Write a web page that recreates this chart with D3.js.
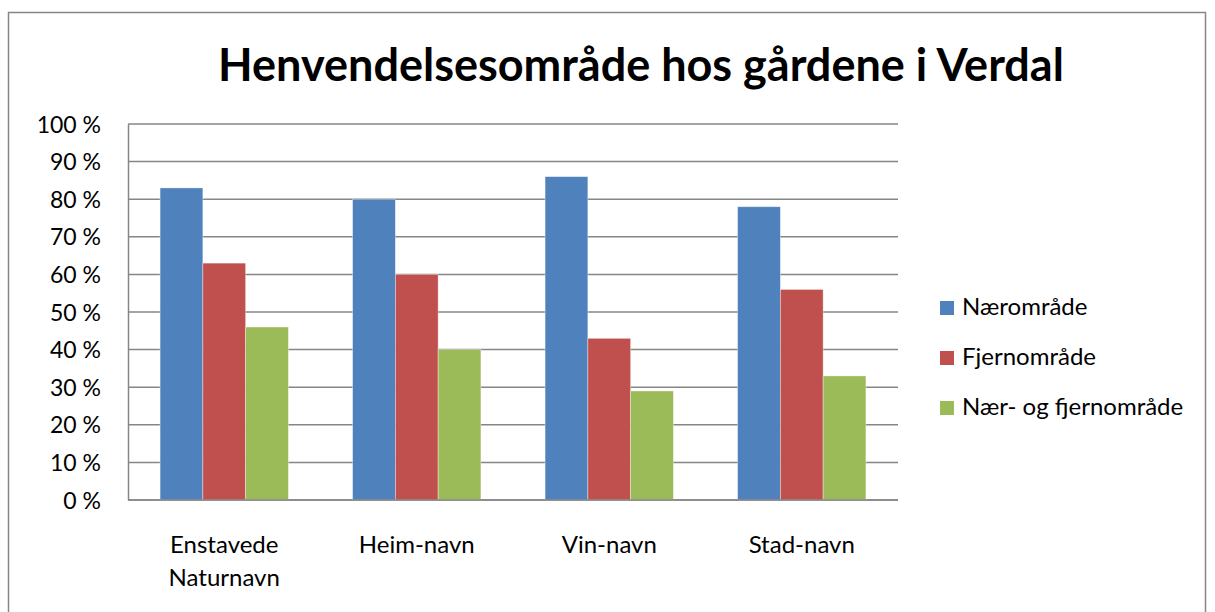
<!DOCTYPE html>
<html>
<head>
<meta charset="utf-8">
<script src="https://cdn.jsdelivr.net/npm/d3@7"></script>
<style>
  body { margin: 0; background: #fff; }
  text { font-family: Lato, "Open Sans", sans-serif; fill: #000; }
</style>
</head>
<body>
<div id="chart"></div>
<script>
// data
var categories = ["Enstavede Naturnavn", "Heim-navn", "Vin-navn", "Stad-navn"];
var seriesNames = ["Nærområde", "Fjernområde", "Nær- og fjernområde"];
var naer = [83, 80, 86, 78];
var fjern = [63, 60, 43, 56];
var naerFjern = [46, 40, 29, 33];
var yTicks = [0, 10, 20, 30, 40, 50, 60, 70, 80, 90, 100];
var colors = ["#4F81BD", "#C0504D", "#9BBB59"];

var W = 1215, H = 612;
var margin = { top: 124, left: 128, right: W - 898, bottom: H - 500 };
var width = W - margin.left - margin.right,
    height = H - margin.top - margin.bottom;

var svg = d3.select("#chart").append("svg")
    .attr("width", W).attr("height", H);

// outer chart border
svg.append("rect")
    .attr("x", 8.5).attr("y", 12.5)
    .attr("width", 1197).attr("height", 620)
    .attr("fill", "none").attr("stroke", "#868686").attr("stroke-width", 1.5);

svg.append("text")
    .attr("x", 641).attr("y", 81)
    .attr("text-anchor", "middle")
    .attr("font-size", "45px").attr("font-weight", "bold")
    .text("Henvendelsesområde hos gårdene i Verdal");

var g = svg.append("g")
    .attr("transform", "translate(" + margin.left + "," + margin.top + ")");

var x0 = d3.scaleBand().domain(categories).range([0, width]).paddingInner(0).paddingOuter(0);
var x1 = d3.scaleBand().domain(seriesNames).range([0, x0.bandwidth() * 3 / 4.5]);
var y = d3.scaleLinear().domain([0, 100]).range([height, 0]);

// gridlines
g.append("g")
    .selectAll("line").data(yTicks).enter().append("line")
    .attr("x1", 0).attr("x2", width)
    .attr("y1", function (d) { return y(d); })
    .attr("y2", function (d) { return y(d); })
    .attr("stroke", "#868686").attr("stroke-width", 1.5);

// y axis labels
var yAxis = g.append("g")
    .call(d3.axisLeft(y).tickValues(yTicks).tickSize(0).tickPadding(27)
        .tickFormat(function (d) { return d + " %"; }));
yAxis.select(".domain").attr("stroke", "#868686").attr("stroke-width", 1.5);
yAxis.selectAll("text").attr("font-size", "23px").attr("dy", "0.35em");

// bars
var rows = categories.map(function (c, i) {
    return { cat: c, vals: [naer[i], fjern[i], naerFjern[i]] };
});
var groups = g.selectAll(".grp").data(rows).enter().append("g")
    .attr("transform", function (d) {
        return "translate(" + (x0(d.cat) + x0.bandwidth() * 0.75 / 4.5) + ",0)";
    });
groups.selectAll("rect")
    .data(function (d) { return d.vals.map(function (v, j) { return { s: seriesNames[j], v: v, j: j }; }); })
    .enter().append("rect")
    .attr("x", function (d) { return x1(d.s); })
    .attr("width", x1.bandwidth())
    .attr("y", function (d) { return y(d.v); })
    .attr("height", function (d) { return height - y(d.v); })
    .attr("fill", function (d) { return colors[d.j]; })
    .attr("stroke", "#ffffff").attr("stroke-opacity", 0.5).attr("stroke-width", 0.75);

// x axis baseline on top
g.append("line")
    .attr("x1", 0).attr("x2", width).attr("y1", height).attr("y2", height)
    .attr("stroke", "#868686").attr("stroke-width", 1.5);

// category labels
var xLabels = g.selectAll(".xl").data(categories).enter().append("text")
    .attr("text-anchor", "middle")
    .attr("font-size", "24px")
    .attr("transform", function (d) { return "translate(" + (x0(d) + x0.bandwidth() / 2) + "," + (height + 53) + ")"; });
xLabels.each(function (d) {
    var words = d === "Enstavede Naturnavn" ? ["Enstavede", "Naturnavn"] : [d];
    var t = d3.select(this);
    words.forEach(function (w, k) {
        t.append("tspan").attr("x", 0).attr("dy", k === 0 ? 0 : 33).text(w);
    });
});

// legend
var legend = svg.append("g").attr("transform", "translate(940,0)");
seriesNames.forEach(function (s, i) {
    var yy = 307 + i * 50;
    legend.append("rect").attr("x", 0).attr("y", yy - 6).attr("width", 14).attr("height", 14)
        .attr("fill", colors[i]);
    legend.append("text").attr("x", 22).attr("y", yy).attr("dy", "0.35em")
        .attr("font-size", "24px").text(s);
});
</script>
</body>
</html>
